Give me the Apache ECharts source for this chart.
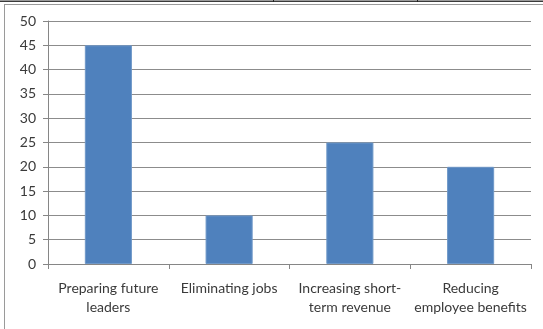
<!DOCTYPE html>
<html>
<head>
<meta charset="utf-8">
<script src="https://cdn.jsdelivr.net/npm/echarts@6/dist/echarts.min.js"></script>
<style>
  html, body { margin: 0; padding: 0; background: #fff; }
  #wrap { position: relative; width: 543px; height: 329px; overflow: hidden; }
  #topbar { position: absolute; left: 0; top: 0; width: 543px; height: 1px; background: #9a9a9a; border-bottom: 1px solid #3a3a3a; }
  .div { position: absolute; top: 0; width: 1px; height: 2px; background: #222; }
  #frame { position: absolute; left: 4px; top: 4px; width: 560px; height: 340px; border-left: 1px solid #9a9a9a; border-top: 1px solid #9a9a9a; }
  #main { position: absolute; left: 0; top: 0; width: 543px; height: 329px; }
</style>
</head>
<body>
<div id="wrap">
  <div id="topbar"></div>
  <div class="div" style="left:273px"></div>
  <div class="div" style="left:417px"></div>
  <div id="frame"></div>
  <div id="main"></div>
</div>
<script>
const categories = [
  'Preparing future\nleaders',
  'Eliminating jobs',
  'Increasing short-\nterm revenue',
  'Reducing\nemployee benefits'
]
const values = [45, 10, 25, 20]

const chart = echarts.init(document.getElementById('main'))
const option = {
  animation: false,
  grid: { left: 48, right: 12, top: 21, bottom: 65 },
  xAxis: {
    type: 'category',
    data: categories,
    axisLine: { lineStyle: { color: '#868686' } },
    axisTick: { show: true, length: 5, lineStyle: { color: '#868686' } },
    axisLabel: {
      color: '#3a3a3a', fontSize: 14, fontFamily: 'Lato', lineHeight: 19, margin: 15, interval: 0
    }
  },
  yAxis: {
    type: 'value',
    min: 0, max: 50, interval: 5,
    axisLine: { show: true, lineStyle: { color: '#868686' } },
    axisTick: { show: true, length: 5, lineStyle: { color: '#868686' } },
    axisLabel: { color: '#3a3a3a', fontSize: 14, fontFamily: 'Lato', margin: 12 },
    splitLine: { lineStyle: { color: '#8c8c8c' } }
  },
  series: [{
    type: 'bar',
    data: values,
    barWidth: '39%',
    itemStyle: { color: '#4f81bd', borderColor: '#6f98c8', borderWidth: 1 }
  }]
}
chart.setOption(option)
</script>
</body>
</html>
